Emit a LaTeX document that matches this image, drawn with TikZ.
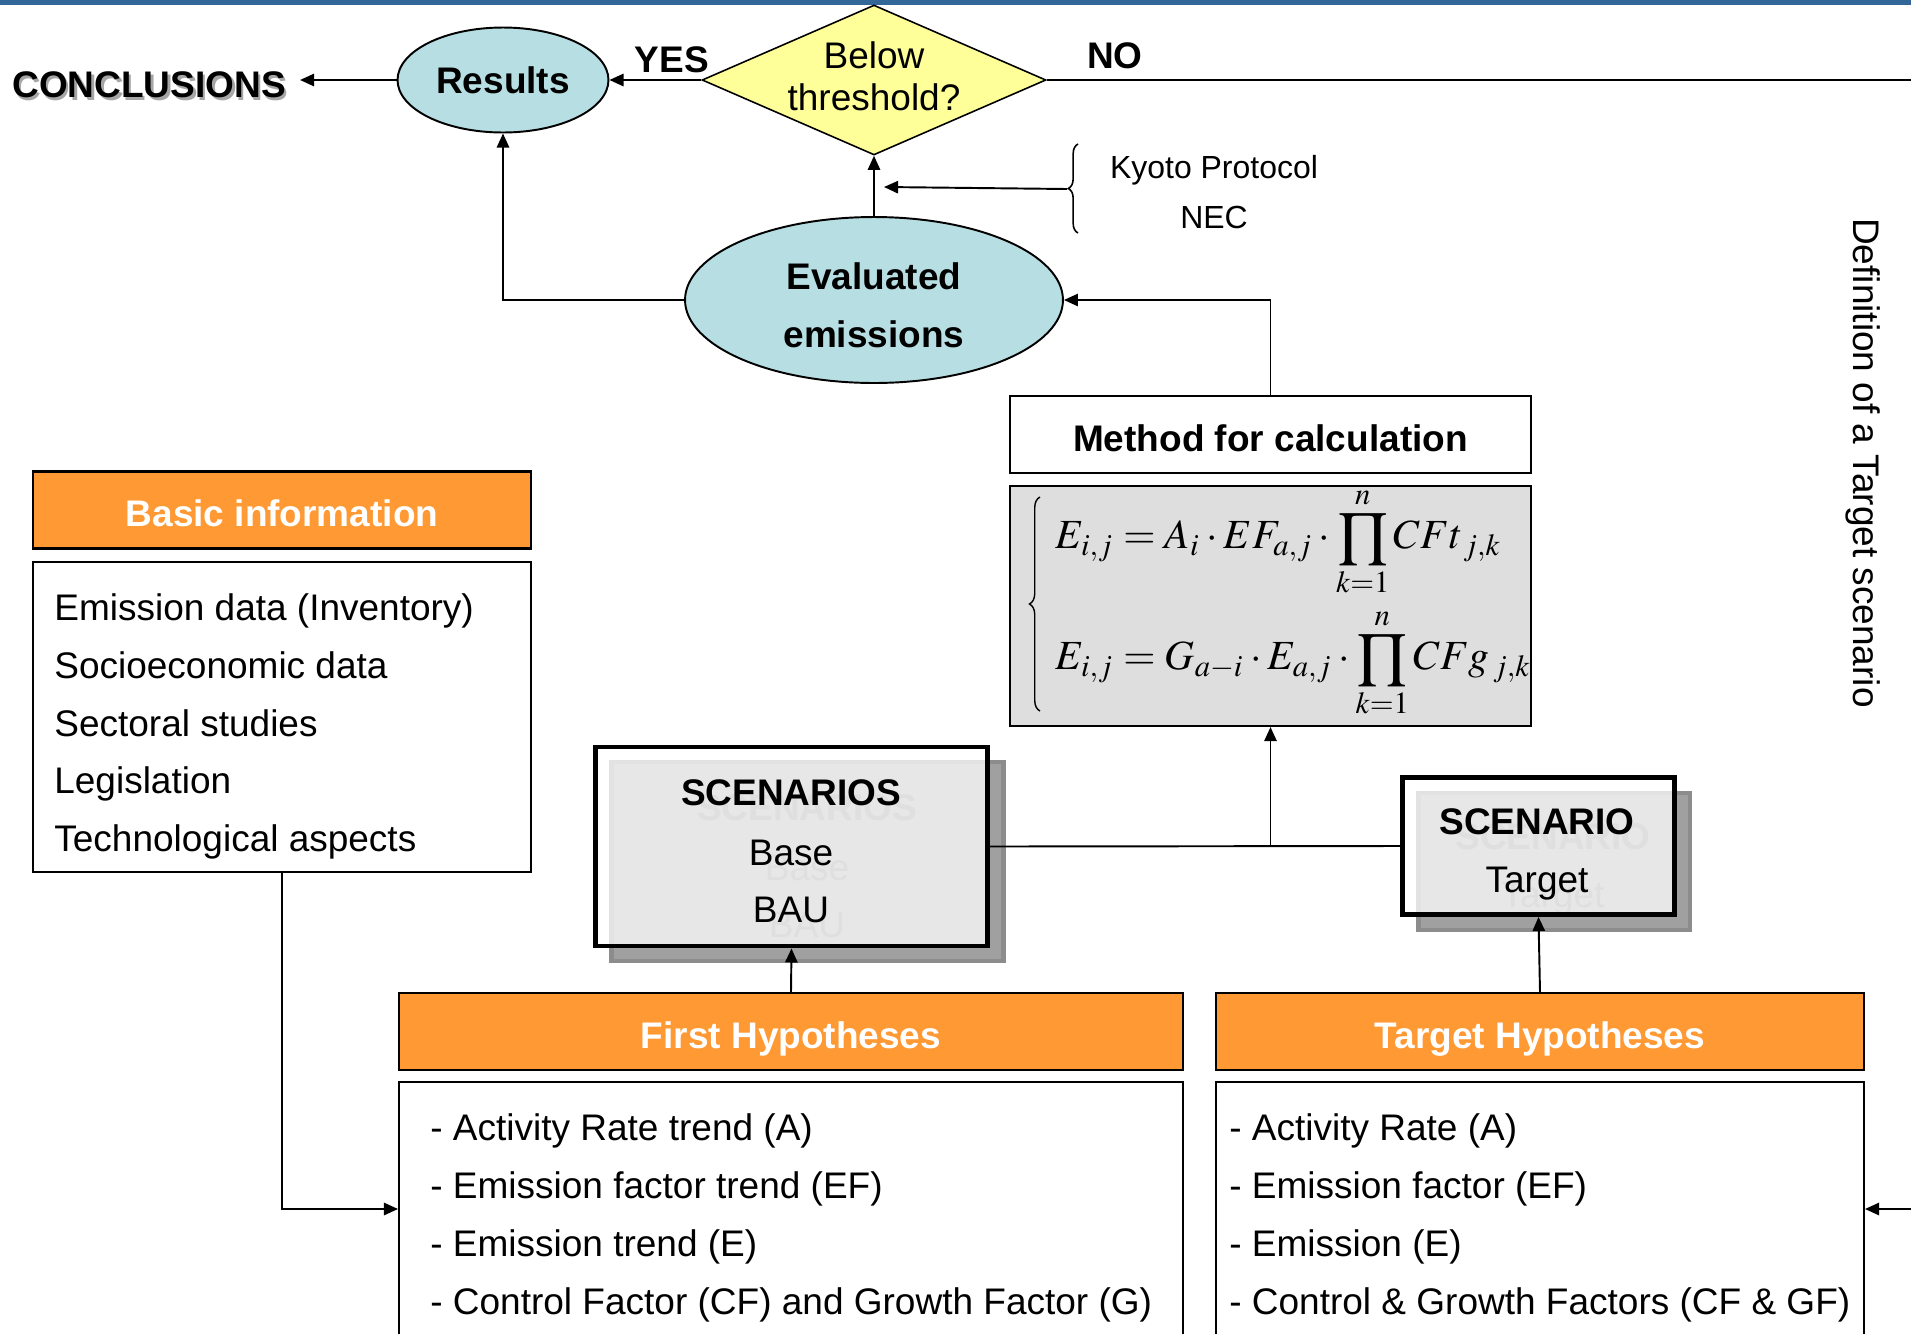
\documentclass[tikz,border=0pt]{standalone}
\usepackage{fix-cm}
\usepackage{mathptmx}
\usepackage[no-math]{fontspec}
\setmainfont{Liberation Sans}
\usetikzlibrary{shapes.geometric,arrows.meta,decorations.pathreplacing,calc}
\definecolor{barblue}{RGB}{51,102,153}
\definecolor{orng}{RGB}{255,153,51}
\definecolor{ltblue}{RGB}{183,223,227}
\definecolor{ltyellow}{RGB}{255,255,153}
\definecolor{formgrey}{RGB}{222,222,222}
\definecolor{shadowgrey}{RGB}{160,160,160}
\definecolor{shadowedge}{RGB}{140,140,140}
\newcommand{\fbig}{\fontsize{21.06pt}{25pt}\selectfont}
\newcommand{\fsml}{\fontsize{18.2pt}{22pt}\selectfont}
\begin{document}
\begin{tikzpicture}[x=0.02cm,y=-0.02cm,
  conn/.style={line width=1.1pt},
  arr/.style={line width=1.1pt,-{Triangle[length=8pt,width=7pt]}},
  hdr/.style={draw, line width=1.2pt, fill=orng, text=white, font=\fbig\bfseries, inner sep=0, minimum height=1.54cm, text height=18.8pt, text depth=0pt},
  bodybox/.style={draw, line width=1.2pt, fill=white, inner sep=0},
  bubble/.style={ellipse, draw, line width=1.1pt, fill=ltblue, inner sep=0, font=\fbig\bfseries, align=center},
  listtxt/.style={font=\fontsize{21.06pt}{32.9pt}\selectfont, align=left, anchor=west, inner sep=0},
  scenfront/.style={draw, line width=2.8pt, fill=white, fill opacity=0.75, inner sep=0},
  scenshadow/.style={draw=shadowedge, line width=2.8pt, fill=shadowgrey, inner sep=0},
  lbl/.style={font=\fbig\bfseries, inner sep=0},
  plain/.style={font=\fbig, inner sep=0},
  ghost/.style={text=gray, inner sep=0},
  formula/.style={anchor=west, inner sep=0, scale=2.36, transform shape},
]
\useasboundingbox (0,0) rectangle (1911,1333);
\clip (0,0) rectangle (1911,1333);
\fill[barblue] (0,0) rectangle (1911,5);

% top row
\node[lbl, text=gray!70] (conclsh) at (151.5,87.5) {CONCLUSIONS};
\node[lbl, inner xsep=0.28cm] (concl) at (149,85) {CONCLUSIONS};
\node[bubble, minimum width=4.22cm, minimum height=2.1cm] (res) at (503,80) {Results};
\node[diamond, draw=black, line width=0.9pt, fill=ltyellow, minimum width=6.88cm, minimum height=3cm, inner sep=0] (dia) at (874,80) {};
\node[font=\fontsize{21.06pt}{24pt}\selectfont, align=center, inner sep=0] (diatxt) at (874,76) {Below\\threshold?};
\node[lbl] (yes) at (672,60) {YES};
\node[lbl] (no) at (1115,56) {NO};
\node[ellipse, draw, line width=1.1pt, fill=ltblue, inner sep=0, minimum width=7.56cm, minimum height=3.32cm] (eval) at (874,300) {};
\node[font=\fontsize{21.06pt}{33pt}\selectfont\bfseries, align=center, inner sep=0] (evaltxt) at (874,305) {Evaluated\\emissions};

% Kyoto brace
\coordinate (bt) at (1078,144);
\coordinate (bb) at (1078,233);
\draw[line width=0.9pt, decorate, decoration={brace, amplitude=5.5pt}] (bb) -- (bt);
\coordinate (btip) at (1067,189);
\coordinate (kend) at (884,187);
\node[font=\fsml, inner sep=0] (kyoto) at (1214,170.5) {Kyoto Protocol};
\node[font=\fsml, inner sep=0] (nec) at (1214,217) {NEC};

% method
\node[draw, line width=1.2pt, fill=white, minimum width=10.42cm, minimum height=1.54cm, inner sep=0, font=\fbig\bfseries, text height=18.8pt, text depth=0pt] (meth) at (1270.5,434.5) {Method for calculation};
\node[draw, line width=1.2pt, fill=formgrey, minimum width=10.42cm, minimum height=4.8cm, inner sep=0] (form) at (1270.5,606) {};
\draw[line width=0.8pt, decorate, decoration={brace, amplitude=6pt}] (1040,711) -- (1040,497);
\node[formula] (f1) at (1055,542) {$\displaystyle E_{i,j} = A_i\cdot EF_{a,j}\cdot\prod_{k=1}^{n} CFt_{\,j,k}$};
\node[formula] (f2) at (1055,663) {$\displaystyle E_{i,j} = G_{a-i}\cdot E_{a,j}\cdot\prod_{k=1}^{n} CFg_{\,j,k}$};

% scenarios
\node[scenshadow, minimum width=7.85cm, minimum height=3.98cm] (scensh) at (807.5,861.5) {};
\node[lbl, ghost] (g1) at (807,808) {SCENARIOS};
\node[plain, ghost] (g2) at (807,868) {Base};
\node[plain, ghost] (g3) at (807,925) {BAU};
\node[scenfront, minimum width=7.85cm, minimum height=3.98cm] (scen) at (791.5,846.5) {};
\node[lbl] (scen1) at (791,793) {SCENARIOS};
\node[plain] (scen2) at (791,853) {Base};
\node[plain] (scen3) at (791,910) {BAU};

\node[scenshadow, minimum width=5.44cm, minimum height=2.74cm] (tgtsh) at (1554,861.5) {};
\node[lbl, ghost] (g4) at (1553,837) {SCENARIO};
\node[plain, ghost] (g5) at (1553,899) {Target};
\node[scenfront, minimum width=5.44cm, minimum height=2.74cm] (tgt) at (1538.5,846) {};
\node[lbl] (tgt1) at (1537,822) {SCENARIO};
\node[plain] (tgt2) at (1537,884) {Target};

% basic information
\node[hdr, minimum width=9.96cm] (bih) at (282,510) {Basic information};
\node[bodybox, minimum width=9.96cm, minimum height=6.2cm] (bib) at (282,717) {};
\node[listtxt] (bit) at (54,726.5) {Emission data (Inventory)\\Socioeconomic data\\Sectoral studies\\Legislation\\Technological aspects};

% hypotheses
\node[hdr, minimum width=15.68cm] (fhh) at (791,1031.5) {First Hypotheses};
\node[bodybox, minimum width=15.68cm, minimum height=5.08cm] (fhb) at (791,1209) {};
\node[listtxt] (fht) at (430,1218) {- Activity Rate trend (A)\\- Emission factor trend (EF)\\- Emission trend (E)\\- Control Factor (CF) and Growth Factor (G)};
\node[hdr, minimum width=12.96cm] (thh) at (1540,1031.5) {Target Hypotheses};
\node[bodybox, minimum width=12.96cm, minimum height=5.08cm] (thb) at (1540,1209) {};
\node[listtxt] (tht) at (1229,1218) {- Activity Rate (A)\\- Emission factor (EF)\\- Emission (E)\\- Control \& Growth Factors (CF \& GF)};

\node[font=\fbig, rotate=-90, inner sep=0] (deftxt) at (1863.5,463) {Definition of a Target scenario};

% connectors
\coordinate (noend) at (1920,80);
\coordinate (rin) at (1920,1209);
\draw[arr] (dia.west) -- (res.east);
\draw[arr] (res.west) -- (res.west -| concl.east);
\draw[conn] (dia.east) -- (noend);
\draw[arr] (eval.north) -- (dia.south);
\draw[arr] (eval.west) -| (res.south);
\draw[arr] (btip) -- (kend);
\draw[arr] (meth.north) |- (eval.east);
\draw[conn] (scen.east) -- (tgt.west);
\draw[arr] (scen.east -| form.south) -- (form.south);
\draw[arr] (fhh.north) -- (scen.south);
\draw[arr] (thh.north) -- (tgt.south);
\draw[arr] (bib.south) |- (fhb.west);
\draw[arr] (rin) -- (thb.east);
\end{tikzpicture}
\end{document}
